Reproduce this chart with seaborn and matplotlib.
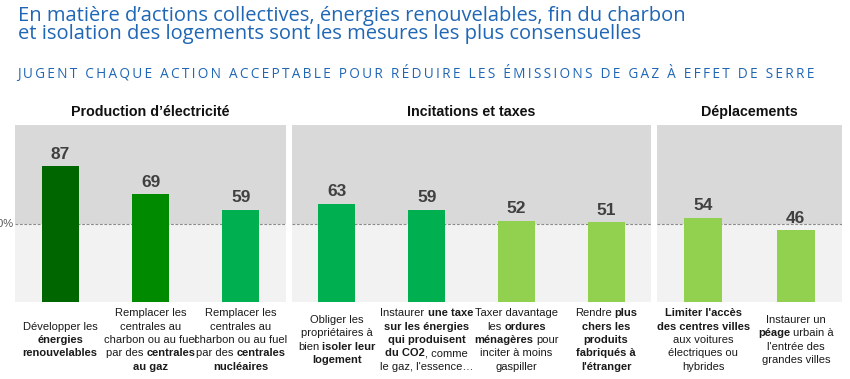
import numpy as np
import pandas as pd
import matplotlib
matplotlib.use("Agg")
import matplotlib.pyplot as plt
import seaborn as sns

# ---------------- data ----------------
title_lines = [
    "En matière d’actions collectives, énergies renouvelables, fin du charbon",
    "et isolation des logements sont les mesures les plus consensuelles",
]
subtitle = "JUGENT CHAQUE ACTION ACCEPTABLE POUR RÉDUIRE LES ÉMISSIONS DE GAZ À EFFET DE SERRE"
groups = ["Production d’électricité", "Incitations et taxes", "Déplacements"]
group_sizes = [3, 4, 2]
values = [87, 69, 59, 63, 59, 52, 51, 54, 46]
tiers = ["t1", "t2", "t3", "t3", "t3", "t4", "t4", "t4", "t4"]
ref_label = "50%"
ref_value = 50
labels = [
    ["Développer les", "**énergies**", "**renouvelables**"],
    ["Remplacer les", "centrales au", "charbon ou au fuel", "par des **centrales**", "**au gaz**"],
    ["Remplacer les", "centrales au", "charbon ou au fuel", "par des **centrales**", "**nucléaires**"],
    ["Obliger les", "propriétaires à", "bien **isoler leur**", "**logement**"],
    ["Instaurer **une taxe**", "**sur les énergies**", "**qui produisent**", "**du CO2**, comme", "le gaz, l'essence…"],
    ["Taxer davantage", "les **ordures**", "**ménagères** pour", "inciter à moins", "gaspiller"],
    ["Rendre **plus**", "**chers les**", "**produits**", "**fabriqués à**", "**l'étranger**"],
    ["**Limiter l'accès**", "**des centres villes**", "aux voitures", "électriques ou", "hybrides"],
    ["Instaurer un", "**péage** urbain à", "l'entrée des", "grandes villes"],
]

# ---------------- style ----------------
tier_colors = {"t1": "#006600", "t2": "#008a00", "t3": "#00b050", "t4": "#92d050"}
BLUE = "#1f66b5"
W, H = 850, 379

sns.set_theme(style="white")
plt.rcParams["font.family"] = ["Liberation Sans", "DejaVu Sans"]

actions = [" ".join(l).replace("**", "") for l in labels]
group_col = sum([[g] * n for g, n in zip(groups, group_sizes)], [])
df = pd.DataFrame({"action": actions, "value": values, "group": group_col, "tier": tiers})
palette = {a: tier_colors[t] for a, t in zip(actions, tiers)}

fig = plt.figure(figsize=(W / 100, H / 100), dpi=100)
fig.patch.set_facecolor("white")
renderer = fig.canvas.get_renderer()


def fx(x):
    return x / W


def fy(y):
    return 1 - y / H


def text_width(s, **kw):
    t = fig.text(0, 0, s, **kw)
    w = t.get_window_extent(renderer).width
    t.remove()
    return w


# panels in pixel coords (left, right)
panels = [(15, 286), (292, 651), (657, 842)]
top_px, bot_px = 125, 302
ymax = ref_value * (bot_px - top_px) / (bot_px - 224)

start = 0
for gi, (g, n) in enumerate(zip(groups, group_sizes)):
    l, r = panels[gi]
    ax = fig.add_axes([fx(l), fy(bot_px), (r - l) / W, (bot_px - top_px) / H])
    sub = df.iloc[start:start + n]
    ax.axhspan(ref_value, ymax, color="#d9d9d9", lw=0, zorder=0)
    ax.axhspan(0, ref_value, color="#f2f2f2", lw=0, zorder=0)
    sns.barplot(data=sub, x="action", y="value", hue="action", palette=palette,
                order=list(sub["action"]), legend=False, width=0.41, saturation=1,
                linewidth=0, ax=ax, zorder=3)
    ax.axhline(ref_value, color="#8a8a8a", lw=0.8, ls=(0, (2.5, 1.5)), zorder=2)
    ax.set_xlim(-0.5, n - 0.5)
    ax.set_ylim(0, ymax)
    ax.set_axis_off()
    for i, v in enumerate(sub["value"]):
        ax.annotate(str(v), (i, v), xytext=(0, 5.5), textcoords="offset points",
                    ha="center", va="baseline", fontsize=12.5, fontweight="bold",
                    color="#404040", zorder=4)
    # header
    fig.text(fx((l + r) / 2), fy(116), g, ha="center", va="baseline",
             fontsize=10.3, fontweight="bold", color="#111111")
    # rich labels (mixed regular / bold)
    fs = 8
    space_w = 0.278 * fs * 100 / 72
    for i in range(n):
        cx = ax.transData.transform((i, 0))[0]
        lines = labels[start + i]
        nl = len(lines)
        for k, line in enumerate(lines):
            parts = line.split("**")
            segs = [(p, pi % 2 == 1) for pi, p in enumerate(parts) if p != ""]
            items = [(s.strip(), b, s.startswith(" "), s.endswith(" ")) for s, b in segs]
            widths = [text_width(s, fontsize=fs, fontweight="bold" if b else "normal")
                      for s, b, _, _ in items]
            gaps = [space_w if (items[j][3] or items[j + 1][2]) else 0.0
                    for j in range(len(items) - 1)]
            total = sum(widths) + sum(gaps)
            x = cx - total / 2
            yc = 339 + (k - (nl - 1) / 2) * 13.3
            for j, (s, b, _, _) in enumerate(items):
                fig.text(fx(x), fy(yc + 4), s, ha="left", va="baseline", fontsize=fs,
                         fontweight="bold" if b else "normal", color="#1a1a1a")
                x += widths[j] + (gaps[j] if j < len(gaps) else 0)
    start += n

# reference label (cut at left edge, as in the reference)
fig.text(fx(14), fy(224), ref_label, ha="right", va="center", fontsize=8, color="#595959")

# title lines
base_font = ["Open Sans", "DejaVu Sans"]
baselines = [20.5, 39.5]
for line, base in zip(title_lines, baselines):
    fig.text(fx(18), fy(base), line, ha="left", va="baseline", fontsize=14.5,
             family=base_font, color=BLUE)

# subtitle with letter spacing (thin spaces)
sp = "\u2009"
sub_txt = " ".join(sp.join(list(wd)) for wd in subtitle.split(" "))
sub_txt = sub_txt.replace(" ", sp + " " + sp)
ws = text_width(sub_txt, fontsize=10, family=base_font)
sfs = 10 * 788 / ws
fig.text(fx(17), fy(78), sub_txt, ha="left", va="baseline", fontsize=sfs,
         family=base_font, color=BLUE)

fig.savefig("out.png", dpi=100, facecolor="white")
